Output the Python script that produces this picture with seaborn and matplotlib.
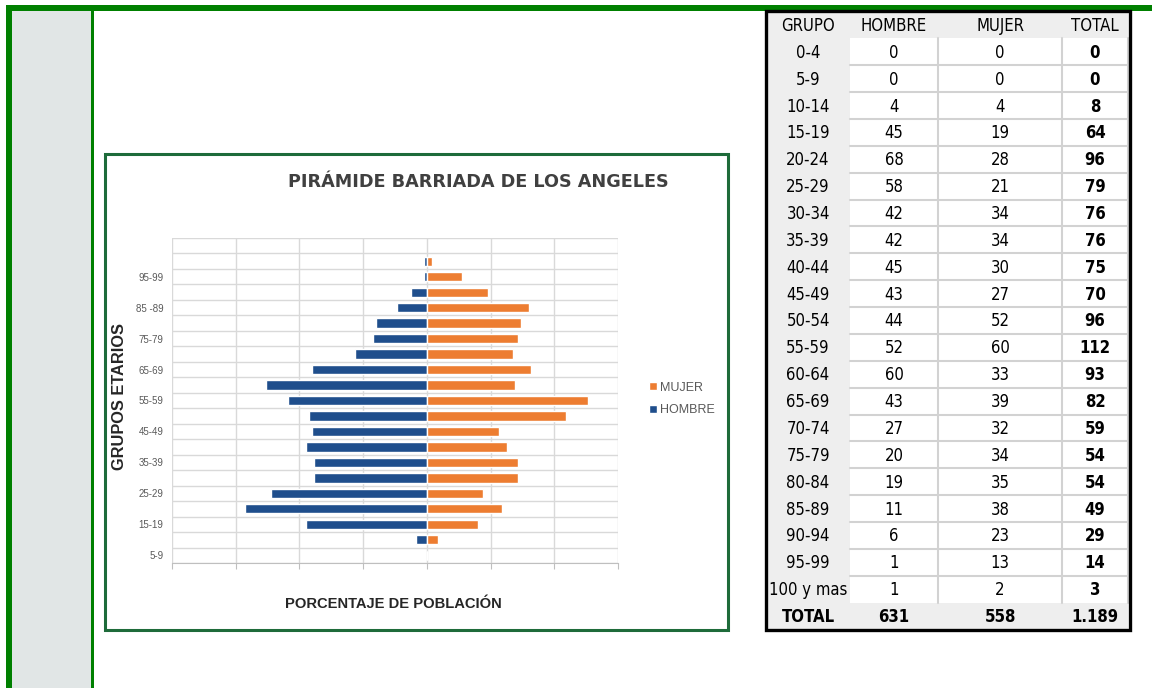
"""
plot.py

piramide de poblacion de la barriada de los angeles, con su tabla de datos
"""

import matplotlib
matplotlib.use("Agg")
import matplotlib.pyplot as plt
from matplotlib.patches import Rectangle
import numpy as np
import pandas as pd
import seaborn as sns

# datos de la tabla
grupos = ["0-4", "5-9", "10-14", "15-19", "20-24", "25-29", "30-34", "35-39",
          "40-44", "45-49", "50-54", "55-59", "60-64", "65-69", "70-74", "75-79",
          "80-84", "85-89", "90-94", "95-99", "100 y mas"]
hombre = [0, 0, 4, 45, 68, 58, 42, 42, 45, 43, 44, 52, 60, 43, 27, 20, 19, 11, 6, 1, 1]
mujer = [0, 0, 4, 19, 28, 21, 34, 34, 30, 27, 52, 60, 33, 39, 32, 34, 35, 38, 23, 13, 2]

# etiquetas que muestra el grafico (una de cada dos, desde abajo)
etiquetas_grafico = ["5-9", "15-19", "25-29", "35-39", "45-49", "55-59",
                     "65-69", "75-79", "85 -89", "95-99"]

AZUL = "#1f4e8c"
NARANJA = "#ed7d31"
VERDE = "#008000"
VERDE_CAJA = "#1e6b3a"

sns.set_style("white")
plt.rcParams["font.family"] = ["Liberation Sans", "DejaVu Sans"]

total_h = sum(hombre)
total_m = sum(mujer)
total_general = total_h + total_m

# el grafico empieza en 5-9 (sin 0-4)
g_graf = grupos[1:]
filas = []
for g, h, m in zip(grupos[1:], hombre[1:], mujer[1:]):
    filas.append({"grupo": g, "sexo": "HOMBRE", "pct": -h / total_general * 100})
    filas.append({"grupo": g, "sexo": "MUJER", "pct": m / total_general * 100})
df = pd.DataFrame(filas)
orden = g_graf[::-1]  # de arriba a abajo
n = len(orden)

W, H = 1152, 688
fig = plt.figure(figsize=(W / 100, H / 100), dpi=100)

# fondo y marcos en coordenadas de pixel
bg = fig.add_axes([0, 0, 1, 1])
bg.set_xlim(0, W)
bg.set_ylim(H, 0)
bg.axis("off")
bg.add_patch(Rectangle((6, 5), W - 6, 6, color=VERDE, lw=0))
bg.add_patch(Rectangle((6, 5), 6, H - 5, color=VERDE, lw=0))
bg.add_patch(Rectangle((12, 11), 79, H - 11, color="#e1e6e6", lw=0))
bg.add_patch(Rectangle((91, 11), 3, H - 11, color=VERDE, lw=0))
bg.add_patch(Rectangle((105, 154), 623, 476, facecolor="white",
                       edgecolor=VERDE_CAJA, lw=2.2))

# textos del grafico
bg.text(478, 182, "PIRÁMIDE BARRIADA DE LOS ANGELES", ha="center", va="center",
        fontsize=12.7, fontweight="bold", color="#404040", family="DejaVu Sans")
bg.text(120, 396, "GRUPOS ETARIOS", ha="center", va="center", rotation=90,
        fontsize=11.8, fontweight="bold", color="#262626")
bg.text(393, 604, "PORCENTAJE DE POBLACIÓN", ha="center", va="center",
        fontsize=10.6, fontweight="bold", color="#262626")

# tabla
col_x = [767, 850, 938, 1062, 1128]
nrows = len(grupos) + 2
rh = 26.86
row_top = 11.6
tbl_bottom = row_top + nrows * rh
bg.add_patch(Rectangle((col_x[0], row_top), col_x[-1] - col_x[0], nrows * rh,
                       color="white", lw=0, zorder=1))
gris = "#eeeeee"
bg.add_patch(Rectangle((col_x[0], row_top), col_x[-1] - col_x[0], rh, color=gris, lw=0, zorder=1))
bg.add_patch(Rectangle((col_x[0], tbl_bottom - rh), col_x[-1] - col_x[0], rh, color=gris, lw=0, zorder=1))
bg.add_patch(Rectangle((col_x[0], row_top), col_x[1] - col_x[0], nrows * rh, color=gris, lw=0, zorder=1))
for i in range(2, nrows - 1):
    y = row_top + i * rh
    bg.plot([col_x[1], col_x[-1]], [y, y], color="#d2d2d2", lw=1.5, zorder=2)
for x in col_x[2:]:
    bg.plot([x, x], [row_top + rh, tbl_bottom - rh], color="#d2d2d2", lw=1.5, zorder=2)
bg.add_patch(Rectangle((765.5, 11), 1129.5 - 765.5, 619, fill=False,
                       edgecolor="black", lw=2.4, zorder=3))

centros = [808, 894, 1000, 1095]
encabezado = ["GRUPO", "HOMBRE", "MUJER", "TOTAL"]
tabla = [encabezado]
for g, h, m in zip(grupos, hombre, mujer):
    tabla.append([g, str(h), str(m), str(h + m)])
tabla.append(["TOTAL", str(total_h), str(total_m),
              "{:,}".format(total_general).replace(",", ".")])
for i, fila in enumerate(tabla):
    y = row_top + (i + 0.5) * rh + 1
    for j, txt in enumerate(fila):
        peso = "bold" if (j == 3 and i > 0) or i == nrows - 1 else "normal"
        bg.text(centros[j], y, txt, ha="center", va="center", fontsize=12,
                fontweight=peso, color="black", family="DejaVu Sans",
                fontstretch="condensed", zorder=4)

# piramide
ax = fig.add_axes([172 / W, (H - 563) / H, 446 / W, 325 / H])
ax.set_facecolor("white")
sns.barplot(data=df, x="pct", y="grupo", hue="sexo", order=orden,
            hue_order=["HOMBRE", "MUJER"], palette=[AZUL, NARANJA],
            dodge=False, orient="h", width=0.6, saturation=1,
            errorbar=None, ax=ax)

ax.set_xlim(-8, 6)
ax.set_ylim(n - 0.5, -1.5)
ax.set_xticks(np.arange(-8, 7, 2))
ax.set_xticklabels([])
pos = [orden.index(g) for g in g_graf[::2]]
ax.set_yticks(pos)
ax.set_yticklabels(etiquetas_grafico)
ax.set_yticks(np.arange(-1.5, n, 1), minor=True)
ax.set_xlabel("")
ax.set_ylabel("")
ax.set_axisbelow(True)
ax.grid(axis="x", which="major", color="#d9d9d9", lw=1)
ax.grid(axis="y", which="minor", color="#d9d9d9", lw=1)
ax.grid(axis="y", which="major", visible=False)
ax.tick_params(axis="y", which="both", length=0, labelsize=7,
               labelcolor="#595959", pad=6)
ax.tick_params(axis="x", which="major", length=4, color="#bfbfbf",
               direction="out", bottom=True)
for lado in ["top", "right", "left"]:
    ax.spines[lado].set_visible(False)
ax.spines["bottom"].set_color("#bfbfbf")

handles, labels = ax.get_legend_handles_labels()
ax.legend(handles[::-1], labels[::-1], loc="center left",
          bbox_to_anchor=(638 / W, (H - 399) / H), bbox_transform=fig.transFigure,
          frameon=False, fontsize=9, labelcolor="#595959",
          handlelength=0.6, handleheight=0.6, handletextpad=0.25,
          labelspacing=0.85)

fig.savefig("out.png", dpi=100)
